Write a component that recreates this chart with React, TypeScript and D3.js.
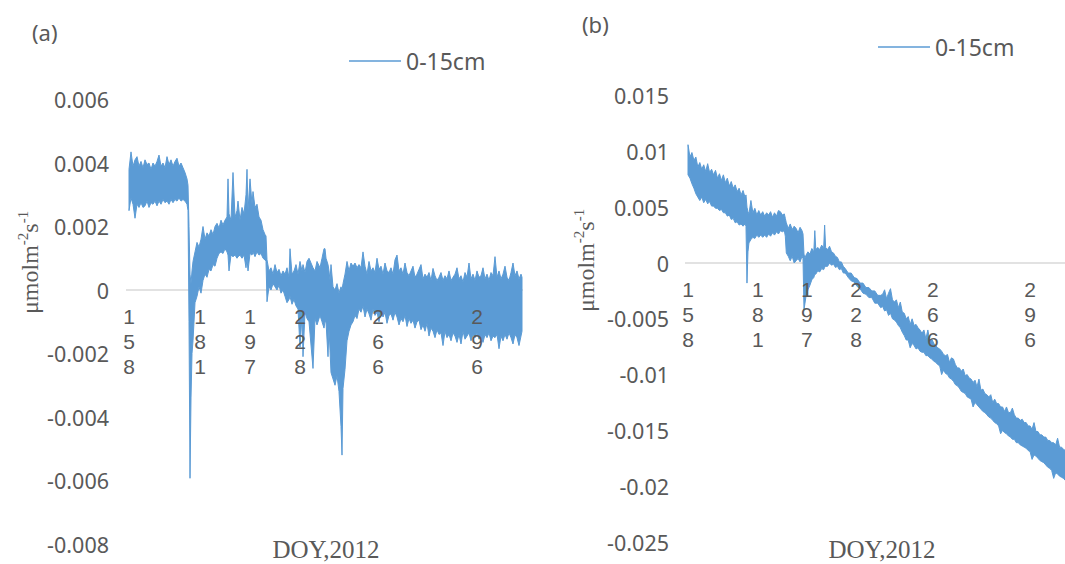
import React from 'react';
import * as d3 from 'd3';

// x = observation index along the category axis; values in units of 1e-3 μmol m-2 s-1
const UNIT = 1e-3;

const TICK_IDX = [0, 71, 121, 171, 249, 348];
const TICK_LABELS = ['158', '181', '197', '228', '266', '296'];
const LEFT_YTICKS = [0.006, 0.004, 0.002, 0, -0.002, -0.004, -0.006, -0.008];
const RIGHT_YTICKS = [0.015, 0.01, 0.005, 0, -0.005, -0.01, -0.015, -0.02, -0.025];
const SERIES_NAME = '0-15cm';
const PANEL_TAGS = ['(a)', '(b)'];

// Panel (a): upper / lower envelope of the dense 0-15cm flux trace
const LEFT_IDX = [0, 2, 4, 6, 8, 10, 12, 14, 16, 18, 20, 22, 24, 26, 28, 30, 32, 34, 36, 38, 40, 42, 44, 46, 48, 50, 52, 54, 56, 58, 59, 60, 61, 62, 63, 64, 66, 68, 70, 72, 74, 76, 78, 80, 82, 84, 86, 88, 90, 92, 94, 96, 98, 99, 100, 102, 104, 106, 108, 109, 111, 113, 115, 117, 118, 119, 121, 123, 124, 126, 128, 130, 132, 134, 136, 137, 138, 140, 142, 144, 146, 148, 150, 152, 154, 156, 158, 160, 161, 163, 165, 167, 169, 171, 173, 174, 176, 178, 180, 184, 186, 188, 191, 193, 195, 196, 197, 199, 200, 201, 202, 204, 206, 208, 210, 212, 213, 214, 216, 218, 220, 222, 224, 226, 228, 230, 232,
  234, 236, 238, 240, 242, 244, 246, 248, 250, 252,
  254, 256, 258, 260, 262, 264, 266, 268, 270, 272,
  274, 276, 278, 280, 282, 284, 286, 288, 290, 292,
  294, 296, 298, 300, 302, 304, 306, 308, 310, 312,
  314, 316, 318, 320, 322, 324, 326, 328, 330, 332,
  334, 336, 338, 340, 342, 344, 346, 348, 350, 352,
  354, 356, 358, 360, 362, 364, 366, 368, 370, 372,
  374, 376, 378, 380, 382, 384, 386, 388, 390, 392, 393];
const LEFT_HI = [3.8, 4.35, 3.9, 4.1, 4.2, 3.9, 4.05, 3.85, 4.1, 3.95, 4.0, 3.8, 4.0, 3.9, 4.05, 4.25, 3.9, 4.0, 3.85, 4.2, 3.95, 4.1, 3.9, 4.05, 4.15, 3.9, 4.0, 3.85, 3.7, 3.5, 3.3, 2.0, 0.5, 0.2, 0.6, 0.9, 1.2, 1.5, 1.35, 1.6, 2.0, 1.6, 1.8, 1.7, 1.9, 1.75, 2.0, 2.1, 1.95, 2.2, 2.05, 2.2, 2.3, 3.5, 2.4, 2.2, 3.7, 2.3, 2.5, 2.8, 2.2, 2.6, 2.4, 3.0, 3.8, 2.5, 3.5, 2.7, 3.1, 2.6, 2.7, 2.3, 2.2, 1.9, 1.75, 1.7, 0.95, 0.6, 0.7, 0.5, 0.8, 0.55, 0.65, 0.45, 0.6, 0.5, 0.7, 0.4, 1.3, 0.5, 0.6, 0.8, 0.5, 0.9, 0.6, 0.8, 0.55, 0.9, 1.0, 0.7, 0.6, 0.9, 0.7, 1.0, 1.3, 1.3, 1.0, 0.8, 0.6, 0.3, 0.8, 0.1, 0.0, 0.2, -0.1, 0.1, 0.0, 0.2, 0.5, 0.9, 0.6, 0.85, 0.75, 0.85, 0.7, 0.8, 0.7,
  1.2, 0.75, 0.5, 0.9, 0.6, 0.7, 0.55, 1.0, 0.65, 0.75,
  0.5, 0.85, 0.6, 0.55, 0.7, 0.5, 0.95, 1.1, 0.6, 0.7,
  0.5, 0.85, 0.55, 0.45, 0.6, 0.75, 0.4, 0.5, 0.65, 0.8,
  0.35, 0.5, 0.4, 0.55, 0.3, 0.68, 0.45, 0.3, 0.4, 0.55,
  0.3, 0.45, 0.35, 0.6, 0.3, 0.4, 0.5, 0.7, 0.35, 0.45,
  0.25, 0.55, 0.4, 0.85, 0.35, 0.5, 0.3, 0.6, 0.4, 0.45,
  0.7, 0.35, 0.5, 0.3, 0.55, 0.45, 1.05, 0.4, 0.6, 0.35,
  0.5, 0.75, 0.4, 0.3, 0.55, 0.85, 0.45, 0.6, 0.35, 0.5, 0.4];
const LEFT_LO = [2.5, 2.9, 2.7, 2.26, 2.7, 2.6, 2.75, 2.6, 2.65, 2.8, 2.6, 2.75, 2.7, 2.8, 2.65, 2.8, 2.7, 2.85, 2.75, 2.8, 2.7, 2.85, 2.75, 2.85, 2.8, 2.9, 2.8, 2.85, 2.8, 2.7, 2.5, -1.0, -5.93, -3.4, -2.0, -1.6, -0.4, -0.2, 0.1, -0.1, 0.3, 0.5, 0.4, 0.65, 0.6, 0.8, 0.75, 1.0, 1.15, 1.2, 1.15, 1.3, 1.2, 1.1, 0.6, 1.1, 1.05, 1.1, 1.0, 1.05, 1.1, 1.0, 1.1, 0.7, 1.0, 0.6, 1.15, 1.1, 1.2, 1.05, 1.2, 1.1, 1.15, 1.0, 0.95, 0.9, -0.37, 0.1, 0.0, 0.2, 0.1, 0.0, 0.15, -0.1, 0.0, -0.2, -0.4, -0.3, -0.2, -0.45, -0.3, -0.5, -0.6, -1.8, -0.8, -2.1, -0.7, -0.9, -1.0, -2.47, -0.9, -1.1, -0.8, -1.0, -1.2, -1.0, -1.0, -2.1, -1.2, -1.9, -2.6, -2.8, -3.0, -2.7, -3.2, -4.3, -5.2, -3.1, -2.5, -1.6, -1.3, -1.1, -1.0, -0.8, -0.9, -0.6, -0.7,
  -0.5, -0.85, -0.6, -0.75, -0.95, -0.6, -0.8, -0.7, -1.0, -0.65,
  -0.85, -0.7, -1.05, -0.8, -0.75, -0.95, -0.7, -0.85, -1.1, -0.9,
  -1.0, -0.8, -1.15, -0.9, -1.05, -0.95, -1.2, -1.0, -0.95, -1.25,
  -1.1, -1.3, -1.05, -1.45, -1.2, -1.3, -1.5, -1.25, -1.4, -1.35,
  -1.75, -1.3, -1.5, -1.4, -1.6, -1.35, -1.45, -1.65, -1.4, -1.7,
  -1.3, -1.55, -1.45, -1.35, -1.6, -1.4, -1.5, -1.35, -1.55, -1.45,
  -1.65, -1.4, -1.5, -1.35, -1.6, -1.45, -1.5, -1.4, -1.85, -1.45,
  -1.6, -1.4, -1.55, -1.35, -1.5, -1.7, -1.4, -1.5, -1.75, -1.45, -1.3];

// Panel (b)
const RIGHT_IDX = [0, 2, 4, 6, 8, 10, 12, 14, 16, 18, 20, 22, 24, 26, 28, 30, 32, 34, 36, 38, 40, 42, 44, 46, 48, 50, 52, 54, 56, 58, 59, 60, 61, 62, 64, 66, 68, 70, 72, 74, 76, 78, 80, 82, 84, 86, 88, 90, 92, 94, 96, 98, 99, 100, 102, 104, 106, 108, 110, 112, 114, 116, 117, 118, 119, 120, 122, 124, 126, 128, 129, 130, 132, 134, 136, 138, 139, 140, 142, 144, 146, 148, 150, 152, 154, 156, 158, 160, 163, 166, 169, 172, 175, 178, 181, 184, 187, 190, 193, 196,
  198, 200, 202, 204, 206, 208, 210, 212, 214, 216,
  218, 220, 222, 224, 226, 228, 230, 232, 234, 236,
  238, 240, 242, 244, 246, 248, 250, 252, 254, 256,
  258, 260, 262, 264, 266, 268, 270, 272, 274, 276,
  278, 280, 282, 284, 286, 288, 290, 292, 294, 296,
  298, 300, 302, 304, 306, 308, 310, 312, 314, 316,
  318, 320, 322, 324, 326, 328, 330, 332, 334, 336,
  338, 340, 342, 344, 346, 348, 350, 352, 354, 356,
  358, 360, 362, 364, 366, 368, 370, 372, 374, 376,
  378, 380, 382, 384, 386, 388, 390, 392];
const RIGHT_HI = [10.6, 9.5, 9.9, 9.2, 9.5, 8.6, 9.0, 8.4, 8.8, 8.2, 8.9, 8.1, 8.4, 7.9, 8.3, 7.6, 8.0, 7.4, 7.9, 7.2, 7.6, 6.9, 7.3, 6.7, 7.0, 6.4, 6.7, 6.1, 6.5, 5.9, 6.1, 5.0, 4.6, 4.4, 5.6, 4.5, 4.9, 4.3, 4.7, 4.3, 4.6, 4.2, 4.5, 4.3, 4.6, 4.1, 4.5, 4.2, 4.7, 4.6, 4.3, 4.4, 4.0, 3.6, 3.1, 3.5, 3.0, 3.3, 3.1, 2.7, 3.2, 2.9, 2.6, 0.8, 0.4, 0.7, 1.0, 0.8, 1.3, 1.0, 2.9, 1.2, 1.4, 1.2, 1.6, 1.3, 3.4, 1.4, 1.2, 1.5, 1.0, 0.9, 0.6, 0.5, 0.1, 0.1, -0.3, -0.5, -0.9, -0.9, -1.3, -1.4, -1.8, -1.8, -2.2, -2.2, -2.5, -2.5, -2.9, -2.9,
  -2.8, -2.4, -3.2, -2.7, -2.3, -3.3, -3.5, -3.3, -4.0, -3.5,
  -4.4, -4.5, -5.0, -4.8, -5.5, -5.0, -5.6, -5.5, -5.8, -6.0,
  -6.3, -6.0, -6.8, -6.0, -7.0, -6.8, -7.2, -7.4, -7.6, -7.7,
  -7.9, -8.2, -8.3, -8.2, -8.9, -8.5, -8.6, -9.1, -9.4, -9.4,
  -9.7, -9.5, -10.1, -10.0, -10.3, -10.4, -10.7, -10.5, -11.1, -10.4,
  -11.4, -11.3, -11.7, -11.8, -12.0, -11.8, -12.5, -12.2, -12.6, -12.6,
  -12.9, -12.9, -13.3, -12.9, -13.4, -13.4, -13.0, -13.6, -13.9, -13.9,
  -14.1, -14.0, -14.3, -14.3, -14.6, -14.6, -14.9, -14.3, -15.1, -15.1,
  -15.4, -15.4, -15.6, -15.6, -15.9, -15.9, -16.1, -16.1, -16.3, -15.7,
  -16.5, -16.5, -16.7, -16.8, -16.9, -17.0, -17.1, -17.1];
const RIGHT_LO = [7.9, 7.6, 7.1, 6.7, 6.2, 5.9, 5.6, 5.9, 5.4, 5.7, 5.3, 5.5, 5.1, 5.1, 4.9, 4.9, 4.7, 4.8, 4.5, 4.5, 4.2, 4.3, 3.9, 4.0, 3.6, 3.7, 3.4, 3.5, 3.3, 3.5, 3.3, -1.8, 1.0, 1.8, 2.1, 2.3, 2.2, 2.5, 2.3, 2.5, 2.3, 2.5, 2.3, 2.6, 2.4, 2.7, 2.5, 2.8, 2.6, 2.9, 2.8, 2.9, 2.4, 0.9, 0.6, 0.2, 0.6, 0.0, 0.2, 0.4, 0.1, 0.6, 0.4, -4.2, -3.6, -3.0, -2.4, -2.0, -1.5, -1.3, -1.0, -1.0, -0.7, -0.8, -0.5, -0.6, -0.4, -0.3, -0.3, 0.0, -0.2, -0.1, -0.4, -0.3, -0.6, -0.5, -0.9, -0.9, -1.3, -1.6, -1.7, -2.1, -2.3, -2.7, -2.8, -3.1, -3.1, -3.6, -3.6, -4.0,
  -3.9, -4.3, -4.2, -4.7, -4.5, -5.0, -5.1, -5.3, -5.6, -5.8,
  -6.2, -6.5, -6.9, -6.9, -7.6, -7.2, -7.4, -7.7, -7.6, -7.9,
  -8.0, -8.0, -8.3, -8.3, -8.5, -8.6, -8.8, -8.9, -9.1, -9.2,
  -10.0, -9.6, -9.9, -10.0, -10.3, -10.4, -10.6, -10.9, -11.0, -11.2,
  -11.5, -11.6, -11.7, -12.0, -12.1, -12.2, -12.9, -12.5, -12.7, -12.9,
  -13.1, -13.3, -13.4, -13.6, -13.8, -13.9, -14.1, -14.3, -14.4, -14.6,
  -15.3, -15.0, -15.2, -15.3, -15.5, -15.6, -15.8, -15.8, -16.1, -16.1,
  -16.3, -16.4, -16.5, -16.6, -16.8, -16.9, -17.6, -17.2, -17.3, -17.5,
  -17.7, -17.8, -17.9, -18.1, -18.3, -18.4, -18.6, -19.3, -18.8, -18.9,
  -19.1, -19.2, -19.3, -19.5, -19.5, -19.6, -19.7, -19.8];

const BLUE = '#5B9BD5';
const GRAY_TEXT = '#595959';
const SANS = '"Noto Sans", "DejaVu Sans", sans-serif';
const TICK_SANS = '"Liberation Sans", Arial, sans-serif';
const SERIF = '"Liberation Serif", "DejaVu Serif", serif';

type PanelCfg = {
  tag: string;
  tagX: number; tagY: number;
  idx: number[]; hi: number[]; lo: number[];
  xStart: number; xEnd: number;
  yTicks: number[]; yTop: number; yBottom: number;
  tickRight: number;
  zeroFrom: number; zeroTo: number;
  legendX: number; legendY: number;
  titleX: number; titleBottom: number;
  doyX: number;
};

const fmt = (v: number) => (v === 0 ? '0' : String(+v.toFixed(3)));

function Panel({ c }: { c: PanelCfg }) {
  const x = d3.scaleLinear().domain([0, 400]).range([c.xStart, c.xEnd]);
  const yMax = d3.max(c.yTicks) as number;
  const yMin = d3.min(c.yTicks) as number;
  const y = d3.scaleLinear().domain([yMin, yMax]).range([c.yBottom, c.yTop]);
  const n = Math.min(c.idx.length, c.hi.length, c.lo.length);
  const area = d3
    .area<number>()
    .x((d) => x(d))
    .y0((_, i) => y(c.lo[i] * UNIT))
    .y1((_, i) => y(c.hi[i] * UNIT))
    .curve(d3.curveLinear);
  const path = area(c.idx.slice(0, n)) || '';
  const y0 = y(0);
  return (
    <g>
      <text x={c.tagX} y={c.tagY} fontFamily={SANS} fontSize={22} fill={GRAY_TEXT} dominantBaseline="central">
        {c.tag}
      </text>
      <line x1={c.legendX} x2={c.legendX + 52} y1={c.legendY} y2={c.legendY} stroke={BLUE} strokeWidth={1.5} />
      <text x={c.legendX + 57} y={c.legendY} fontFamily={SANS} fontSize={23} fill={GRAY_TEXT} dominantBaseline="central">
        {SERIES_NAME}
      </text>
      {c.yTicks.map((t) => (
        <text key={t} x={c.tickRight} y={y(t)} textAnchor="end" dominantBaseline="central" fontFamily={SANS} fontSize={21.5} fill={GRAY_TEXT}>
          {fmt(t)}
        </text>
      ))}
      <line x1={c.zeroFrom} x2={c.zeroTo} y1={y0} y2={y0} stroke="#D9D9D9" strokeWidth={1.5} />
      <path d={path} fill={BLUE} stroke={BLUE} strokeWidth={1} strokeLinejoin="miter" />
      {TICK_IDX.map((t, i) => (
        <g key={t}>
          {TICK_LABELS[i].split('').map((ch, k) => (
            <text key={k} x={x(t)} y={y0 + 34 + k * 25} textAnchor="middle" fontFamily={TICK_SANS} fontSize={21} fill={GRAY_TEXT}>
              {ch}
            </text>
          ))}
        </g>
      ))}
      <text transform={`translate(${c.titleX},${c.titleBottom}) rotate(-90)`} fontFamily={SERIF} fontSize={24} fill={GRAY_TEXT}>
        μmolm<tspan fontSize={15} dy={-10}>-2</tspan>
        <tspan dy={10}>s</tspan>
        <tspan fontSize={15} dy={-10}>-1</tspan>
      </text>
      <text x={c.doyX} y={558} textAnchor="middle" fontFamily={SERIF} fontSize={25} fill={GRAY_TEXT}>
        DOY,2012
      </text>
    </g>
  );
}

const PANELS: PanelCfg[] = [
  {
    tag: PANEL_TAGS[0], tagX: 32, tagY: 32,
    idx: LEFT_IDX, hi: LEFT_HI, lo: LEFT_LO,
    xStart: 129, xEnd: 529,
    yTicks: LEFT_YTICKS, yTop: 99.5, yBottom: 544,
    tickRight: 109,
    zeroFrom: 126, zeroTo: 523,
    legendX: 349, legendY: 61,
    titleX: 38, titleBottom: 314,
    doyX: 326,
  },
  {
    tag: PANEL_TAGS[1], tagX: 582, tagY: 24,
    idx: RIGHT_IDX, hi: RIGHT_HI, lo: RIGHT_LO,
    xStart: 688, xEnd: 688 + 393.2,
    yTicks: RIGHT_YTICKS, yTop: 95.6, yBottom: 542,
    tickRight: 669,
    zeroFrom: 685, zeroTo: 1065,
    legendX: 878, legendY: 47,
    titleX: 594, titleBottom: 312,
    doyX: 882,
  },
];

export default function App() {
  return (
    <svg
      width={1065}
      height={564}
      style={{ position: 'absolute', left: 0, top: 0, background: '#fff' }}
    >
      <rect width={1065} height={564} fill="#fff" />
      {PANELS.map((p) => (
        <Panel key={p.tag} c={p} />
      ))}
    </svg>
  );
}
